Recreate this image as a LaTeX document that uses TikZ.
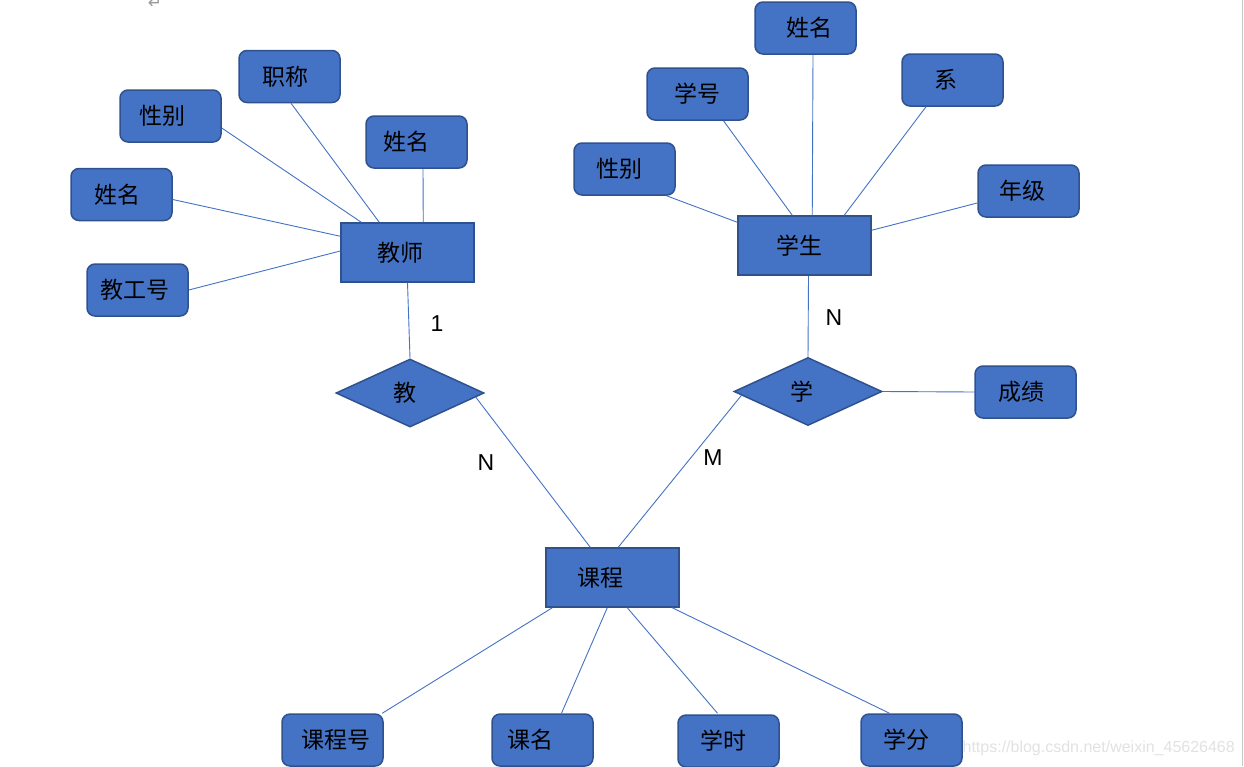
\documentclass[tikz,border=0pt]{standalone}
\usepackage{fontspec}
\setmainfont{Noto Sans CJK SC}
\newfontfamily\lat{Liberation Sans}
\newfontfamily\djv{DejaVu Sans}
\usetikzlibrary{shapes.geometric,calc}
\definecolor{boxfill}{HTML}{4472C4}
\definecolor{boxline}{HTML}{2F528F}
\definecolor{conn}{HTML}{4472C4}
\definecolor{wm}{HTML}{E2E2E2}
\definecolor{edgegray}{HTML}{C8C8C8}
\tikzset{
  attr/.style={draw=boxline, line width=1.5pt, fill=boxfill, rounded corners=8pt,
    minimum width=101pt, minimum height=52pt, inner sep=0pt,
    font=\fontsize{23}{26}\selectfont, text=black},
  entity/.style={draw=boxline, line width=1.5pt, fill=boxfill,
    minimum width=133pt, minimum height=59pt, inner sep=0pt,
    font=\fontsize{23}{26}\selectfont, text=black},
  rel/.style={diamond, draw=boxline, line width=1.5pt, fill=boxfill,
    minimum width=148pt, minimum height=68pt, inner sep=0pt,
    font=\fontsize{23}{26}\selectfont, text=black},
  conline/.style={draw=conn, line width=0.9pt},
  card/.style={font=\lat\fontsize{23}{26}\selectfont, text=black, inner sep=0pt}
}
\begin{document}
\begin{tikzpicture}[x=1pt,y=-1pt]
\useasboundingbox (0,0) rectangle (1244,766);
\clip (0,0) rectangle (1244,766);
\fill[white] (0,0) rectangle (1244,766);
% page edge and paragraph mark
\draw[edgegray, line width=1.5pt] (1242.5,0) -- (1242.5,766);
\node[text=gray!80, font=\djv\fontsize{17}{18}\selectfont, inner sep=0pt, anchor=south] (pmark) at (155,9) {↵};

% teacher side
\node[entity] (T) at (407.5,252.5) {\hspace*{-14pt}教师};
\node[attr] (zc) at (289.5,76.5) {\hspace*{-8pt}职称};
\node[attr] (sexT) at (170.5,116) {\hspace*{-17pt}性别};
\node[attr] (nameT) at (416.5,142) {\hspace*{-20pt}姓名};
\node[attr] (nameL) at (121.5,194.5) {\hspace*{-9pt}姓名};
\node[attr] (jgh) at (137.5,290) {\hspace*{-6pt}教工号};
\node[rel] (jiao) at (410,393) {\hspace*{-10pt}教};

% student side
\node[entity] (S) at (804.5,245.5) {\hspace*{-11pt}学生};
\node[attr] (nameS) at (805.5,28) {\hspace*{8pt}姓名};
\node[attr] (xh) at (697.5,94) {学号};
\node[attr] (xi) at (952.5,80) {\hspace*{-13pt}系};
\node[attr] (sexS) at (624.5,169) {\hspace*{-11pt}性别};
\node[attr] (nj) at (1028.5,191) {\hspace*{-12pt}年级};
\node[rel] (xue) at (808,391.5) {\hspace*{-13pt}学};
\node[attr] (cj) at (1025.5,392) {\hspace*{-9pt}成绩};

% course
\node[entity] (C) at (612.5,577.5) {\hspace*{-24pt}课程};
\node[attr] (kch) at (332.5,740) {\hspace*{7pt}课程号};
\node[attr] (km) at (542.5,740) {\hspace*{-24pt}课名};
\node[attr] (xs) at (728.5,741) {\hspace*{-10pt}学时};
\node[attr] (xf) at (911.5,740) {\hspace*{-10pt}学分};

% connectors: teacher
\draw[conline] ([yshift=-12pt]sexT.east) -- ([xshift=21pt]T.north west);
\draw[conline] ([xshift=1.5pt]zc.south) -- ([xshift=39pt]T.north west);
\draw[conline] ([xshift=6.5pt]nameT.south) -- ([xshift=83pt]T.north west);
\draw[conline] ([yshift=-5pt]nameL.east) -- ([yshift=-14pt]T.north west);
\draw[conline] (jgh.east) -- ([yshift=1.5pt]T.west);
\draw[conline] (T.south) -- (jiao.north);
\draw[conline] ($(jiao.east)!0.12!(jiao.south)$) -- ([xshift=45pt]C.north west);

% connectors: student
\draw[conline] ([xshift=7.5pt]nameS.south) -- ([xshift=75pt]S.north west);
\draw[conline] ([xshift=26pt]xh.south) -- ([xshift=55pt]S.north west);
\draw[conline] ([xshift=-26.5pt]xi.south) -- ([xshift=107pt]S.north west);
\draw[conline] ([xshift=42pt]sexS.south) -- ([yshift=-7pt]S.north west);
\draw[conline] ([yshift=-12pt]nj.west) -- ([yshift=-15pt]S.north east);
\draw[conline] ([xshift=4pt]S.south) -- (xue.north);
\draw[conline] (xue.east) -- (cj.west);
\draw[conline] ($(xue.west)!0.11!(xue.south)$) -- ([xshift=73pt]C.north west);

% connectors: course
\draw[conline] ([xshift=7pt]C.south west) -- ([xshift=-1.5pt]kch.north east);
\draw[conline] ([xshift=62pt]C.south west) -- ([xshift=19pt]km.north);
\draw[conline] ([xshift=82pt]C.south west) -- ([xshift=-11pt,yshift=1pt]xs.north);
\draw[conline] ([xshift=127pt]C.south west) -- ([xshift=-22pt]xf.north);

% cardinalities
\node[card] (c1) at (437,324) {1};
\node[card] (c2) at (834,318) {N};
\node[card] (c3) at (486,463) {N};
\node[card] (c4) at (713,458) {M};

% watermark
\node[text=wm, font=\lat\fontsize{16}{18}\selectfont, inner sep=0pt, anchor=east] (wmk) at (1235,748) {https://blog.csdn.net/weixin\_45626468};
\end{tikzpicture}
\end{document}
